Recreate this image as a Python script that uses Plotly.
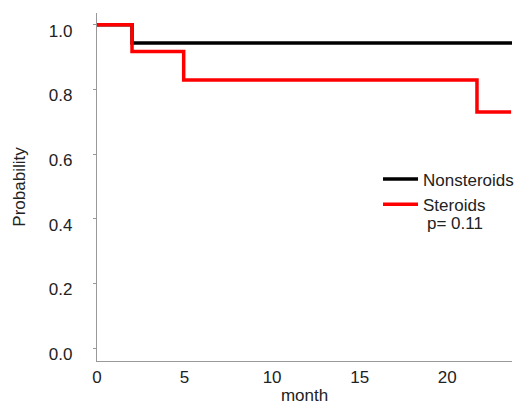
import plotly.graph_objects as go

# Kaplan-Meier step data
nonster_month = [0, 2.0, 23.75]
nonster_prob = [1.0, 0.943, 0.943]
ster_month = [0, 2.0, 4.95, 21.7, 23.65]
ster_prob = [1.0, 0.917, 0.829, 0.730, 0.730]
series_names = ["Nonsteroids", "Steroids"]
p_text = "p= 0.11"
x_ticks = [0, 5, 10, 15, 20]
y_ticks = [0.0, 0.2, 0.4, 0.6, 0.8, 1.0]

FS = 17
TXT = "#222222"

fig = go.Figure()
fig.add_trace(go.Scatter(x=nonster_month, y=nonster_prob, mode="lines", line_shape="hv",
                         line=dict(color="#000000", width=3.5), name=series_names[0]))
fig.add_trace(go.Scatter(x=ster_month, y=ster_prob, mode="lines", line_shape="hv",
                         line=dict(color="#ff0000", width=3.5), name=series_names[1]))

fig.add_annotation(text=p_text, xref="paper", yref="paper", x=(425 - 97) / 415, y=(361 - 223) / 348,
                   xanchor="left", yanchor="middle", showarrow=False,
                   font=dict(size=FS, color=TXT))

fig.update_layout(
    width=516, height=397,
    margin=dict(l=89, r=12, t=5, b=44, autoexpand=False),
    paper_bgcolor="white", plot_bgcolor="white",
    font=dict(family="Liberation Sans, Arial, sans-serif", size=FS, color=TXT),
    showlegend=True,
    legend=dict(x=(383 - 97) / 415 - 0.012, y=(361 - 192) / 348, xanchor="left", yanchor="middle",
                bgcolor="rgba(0,0,0,0)", font=dict(size=FS, color=TXT),
                tracegroupgap=0, itemwidth=35),
    xaxis=dict(range=[0, 23.7], tickvals=x_ticks, showgrid=False, zeroline=False,
               showline=True, linecolor="#999999", linewidth=1.2, ticks="",
               ticklabelstandoff=0, automargin=False,
               title=dict(text="month", standoff=15, font=dict(size=FS))),
    yaxis=dict(range=[-0.04, 1.036], tickvals=y_ticks, tickformat=".1f",
               showgrid=False, zeroline=False, showline=True, linecolor="#999999",
               linewidth=1.2, ticks="outside", ticklen=3, tickcolor="#999999",
               ticklabelstandoff=17, ticklabelshift=6, automargin=False,
               title=dict(text="Probability", standoff=18, font=dict(size=FS))),
)

fig.write_html("out.html")
